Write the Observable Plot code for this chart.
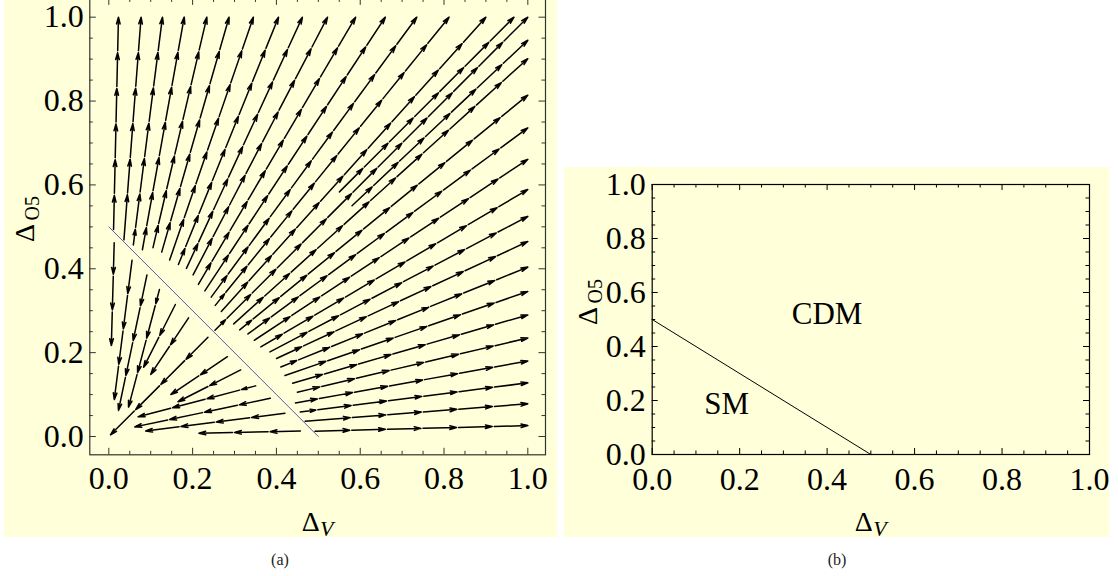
<!DOCTYPE html>
<html><head><meta charset="utf-8">
<script src="https://cdn.jsdelivr.net/npm/d3@7"></script>
<script src="https://cdn.jsdelivr.net/npm/@observablehq/plot@0.6"></script>
<style>
html,body{margin:0;padding:0;background:#fff;}
body{width:1118px;height:576px;overflow:hidden;position:relative;font-family:"Liberation Serif","Times New Roman",serif;}
#pa{position:absolute;left:4px;top:-20px;}
#pb{position:absolute;left:564px;top:167px;}
.cap{position:absolute;top:551px;width:100px;text-align:center;font-size:16px;line-height:18px;color:#222;}
</style></head><body>
<div id="pa"></div><div id="pb"></div>
<div class="cap" style="left:230px">(a)</div>
<div class="cap" style="left:787px">(b)</div>
<script>
// ---------- data ----------
const majorTicks = [0, 0.2, 0.4, 0.6, 0.8, 1.0];
const minorTicks = [0.05, 0.1, 0.15, 0.25, 0.3, 0.35, 0.45, 0.5, 0.55, 0.65, 0.7, 0.75, 0.85, 0.9, 0.95];
const tickLabels = ["0.0", "0.2", "0.4", "0.6", "0.8", "1.0"];
const boundaryX = [0, 0.5];
const boundaryY = [0.5, 0];
const regionNames = ["CDM", "SM"];
const regionX = [0.40, 0.17];
const regionY = [0.519, 0.185];
// streamlines flowing away from the fixed line (start -> end)
const flowOut = [
  [[0.0112,0.4888],[0.023,1]], [[0.0357,0.4643],[0.077,1]], [[0.0579,0.4521],[0.128,1]],
  [[0.0793,0.4407],[0.180,1]], [[0.1043,0.4457],[0.234,1]], [[0.1249,0.4351],[0.287,1]],
  [[0.1436,0.4164],[0.345,1]], [[0.1643,0.4057],[0.405,1]], [[0.1833,0.3967],[0.462,1]],
  [[0.1989,0.3811],[0.522,1]], [[0.2113,0.3587],[0.589,1]], [[0.2266,0.3434],[0.660,1]],
  [[0.2415,0.3285],[0.735,1]], [[0.2510,0.3091],[0.812,1]], [[0.2653,0.2947],[0.900,1]],
  [[0.547,0.580],[0.967,1]], [[0.25,0.25],[1,1]], [[0.577,0.547],[1,0.945]],
  [[0.2946,0.2654],[1,0.901]], [[0.3087,0.2513],[1,0.814]], [[0.3283,0.2417],[1,0.736]],
  [[0.3432,0.2268],[1,0.661]], [[0.3587,0.2113],[1,0.589]], [[0.3803,0.1997],[1,0.525]],
  [[0.3959,0.1841],[1,0.465]], [[0.4060,0.1640],[1,0.404]], [[0.4160,0.1440],[1,0.346]],
  [[0.4341,0.1259],[1,0.290]], [[0.4453,0.1047],[1,0.235]], [[0.4407,0.0793],[1,0.180]],
  [[0.4521,0.0579],[1,0.128]], [[0.4638,0.0362],[1,0.078]], [[0.4873,0.0127],[1,0.026]]
];
// streamlines flowing toward the origin (start -> end)
const flowIn = [
  [[0.0130,0.4670],[0.006,0.217]], [[0.0560,0.4250],[0.013,0.088]], [[0.0920,0.3900],[0.023,0.062]],
  [[0.1220,0.3550],[0.047,0.070]], [[0.1610,0.3190],[0.083,0.165]], [[0.1930,0.2870],[0.100,0.148]],
  [[0.2400,0.2400],[0.004,0.004]],
  [[0.2870,0.1930],[0.148,0.100]], [[0.3190,0.1610],[0.165,0.083]], [[0.3550,0.1220],[0.070,0.047]],
  [[0.3900,0.0920],[0.062,0.023]], [[0.4250,0.0560],[0.088,0.013]], [[0.4620,0.0130],[0.215,0.008]]
];

// ---------- helpers ----------
const serif = '"Liberation Serif","Times New Roman",serif';
const bg = "#FFFFD9";
// split a streamline into a chain of arrows, anchored at its end
function chain(pts, seg) {
  const cum = [0];
  for (let i = 1; i < pts.length; i++) cum.push(cum[i-1] + Math.hypot(pts[i][0]-pts[i-1][0], pts[i][1]-pts[i-1][1]));
  const L = cum[cum.length-1];
  const at = s => {
    let i = 1; while (i < cum.length-1 && cum[i] < s) i++;
    const t = (s - cum[i-1]) / ((cum[i] - cum[i-1]) || 1);
    return [pts[i-1][0] + t*(pts[i][0]-pts[i-1][0]), pts[i-1][1] + t*(pts[i][1]-pts[i-1][1])];
  };
  const cuts = [];
  for (let s = L; s > 1e-9; s -= seg) cuts.push(s);
  cuts.push(0); cuts.reverse();
  if (cuts.length > 2 && cuts[1] < 0.35*seg) cuts.splice(1, 1);
  const out = [];
  for (let i = 0; i < cuts.length-1; i++) out.push([at(cuts[i]), at(cuts[i+1])]);
  return out;
}
const segments = [...flowOut, ...flowIn].flatMap(p => chain(p, 0.085));

function frameTicks(fw, fh, color, maj, mnr) {
  const o = {stroke: color, strokeWidth: 1};
  return [
    Plot.tickX(majorTicks, {x: d=>d, insetTop: fh-maj, ...o}),
    Plot.tickX(minorTicks, {x: d=>d, insetTop: fh-mnr, ...o}),
    Plot.tickX(majorTicks, {x: d=>d, insetBottom: fh-maj, ...o}),
    Plot.tickX(minorTicks, {x: d=>d, insetBottom: fh-mnr, ...o}),
    Plot.tickY(majorTicks, {y: d=>d, insetRight: fw-maj, ...o}),
    Plot.tickY(minorTicks, {y: d=>d, insetRight: fw-mnr, ...o}),
    Plot.tickY(majorTicks, {y: d=>d, insetLeft: fw-maj, ...o}),
    Plot.tickY(minorTicks, {y: d=>d, insetLeft: fw-mnr, ...o})
  ];
}
function labels(xdy, ydx, ylabDy) {
  return [
    Plot.text(majorTicks, {x: d=>d, text: (d,i)=>tickLabels[i], frameAnchor: "bottom", lineAnchor: "bottom", dy: xdy, fontSize: 32, fill: "black"}),
    Plot.text(majorTicks, {y: d=>d, text: (d,i)=>tickLabels[i], frameAnchor: "left", textAnchor: "end", lineAnchor: "middle", dx: ydx, fontSize: 32, fill: "black"}),
    Plot.text(["Δ"], {frameAnchor: "bottom", lineAnchor: "bottom", dx: -7, dy: 76.5, fontSize: 28, fill: "black"}),
    Plot.text(["V"], {frameAnchor: "bottom", lineAnchor: "bottom", dx: 9, dy: 81, fontSize: 22, fontStyle: "italic", fill: "black"}),
    Plot.text(["Δ"], {frameAnchor: "left", lineAnchor: "bottom", rotate: -90, dx: -55.5, dy: ylabDy[0], fontSize: 28, fill: "black"}),
    Plot.text(["O5"], {frameAnchor: "left", lineAnchor: "bottom", rotate: -90, dx: -50.5, dy: ylabDy[1], fontSize: 20, fill: "black"})
  ];
}

// ---------- panel (a) ----------
{
  const W = 553, H = 557, ml = 85.3, mr = 12, mt = 18.4, mb = 82.7;
  const fw = W-ml-mr, fh = H-mt-mb;
  const svg = Plot.plot({
    width: W, height: H, marginLeft: ml, marginRight: mr, marginTop: mt, marginBottom: mb,
    x: {domain: [-0.0454, 1.0422], axis: null},
    y: {domain: [-0.0436, 1.0436], axis: null},
    style: {background: bg, fontFamily: serif, color: "black", overflow: "visible"},
    marks: [
      Plot.arrow(segments, {x1: d=>d[0][0], y1: d=>d[0][1], x2: d=>d[1][0], y2: d=>d[1][1],
        stroke: "black", strokeWidth: 1.5, headLength: 7, headAngle: 30, insetStart: 2}),
      Plot.line(boundaryX.map((x,i)=>[x, boundaryY[i]]), {x: d=>d[0], y: d=>d[1], stroke: "#5a5ab4", strokeWidth: 1}),
      Plot.frame({stroke: "#333", strokeWidth: 1.2}),
      ...frameTicks(fw, fh, "#333", 6.5, 3.5),
      ...labels(34, -6, [15.2, -6.4])
    ]
  });
  document.getElementById("pa").appendChild(svg);
}
// ---------- panel (b) ----------
{
  const W = 545, H = 370, ml = 87.7, mr = 20, mt = 17, mb = 83;
  const fw = W-ml-mr, fh = H-mt-mb;
  const svg = Plot.plot({
    width: W, height: H, marginLeft: ml, marginRight: mr, marginTop: mt, marginBottom: mb,
    x: {domain: [0, 1], axis: null},
    y: {domain: [0, 1], axis: null},
    style: {background: bg, fontFamily: serif, color: "black", overflow: "visible"},
    marks: [
      Plot.line(boundaryX.map((x,i)=>[x, boundaryY[i]]), {x: d=>d[0], y: d=>d[1], stroke: "black", strokeWidth: 1}),
      Plot.text(regionNames, {x: (d,i)=>regionX[i], y: (d,i)=>regionY[i], text: d=>d, fontSize: 31, lineAnchor: "middle", fill: "black"}),
      Plot.frame({stroke: "black", strokeWidth: 1.2}),
      ...frameTicks(fw, fh, "black", 6, 3.5),
      ...labels(35.5, -6.5, [5.5, -16])
    ]
  });
  document.getElementById("pb").appendChild(svg);
}
</script>
</body></html>
